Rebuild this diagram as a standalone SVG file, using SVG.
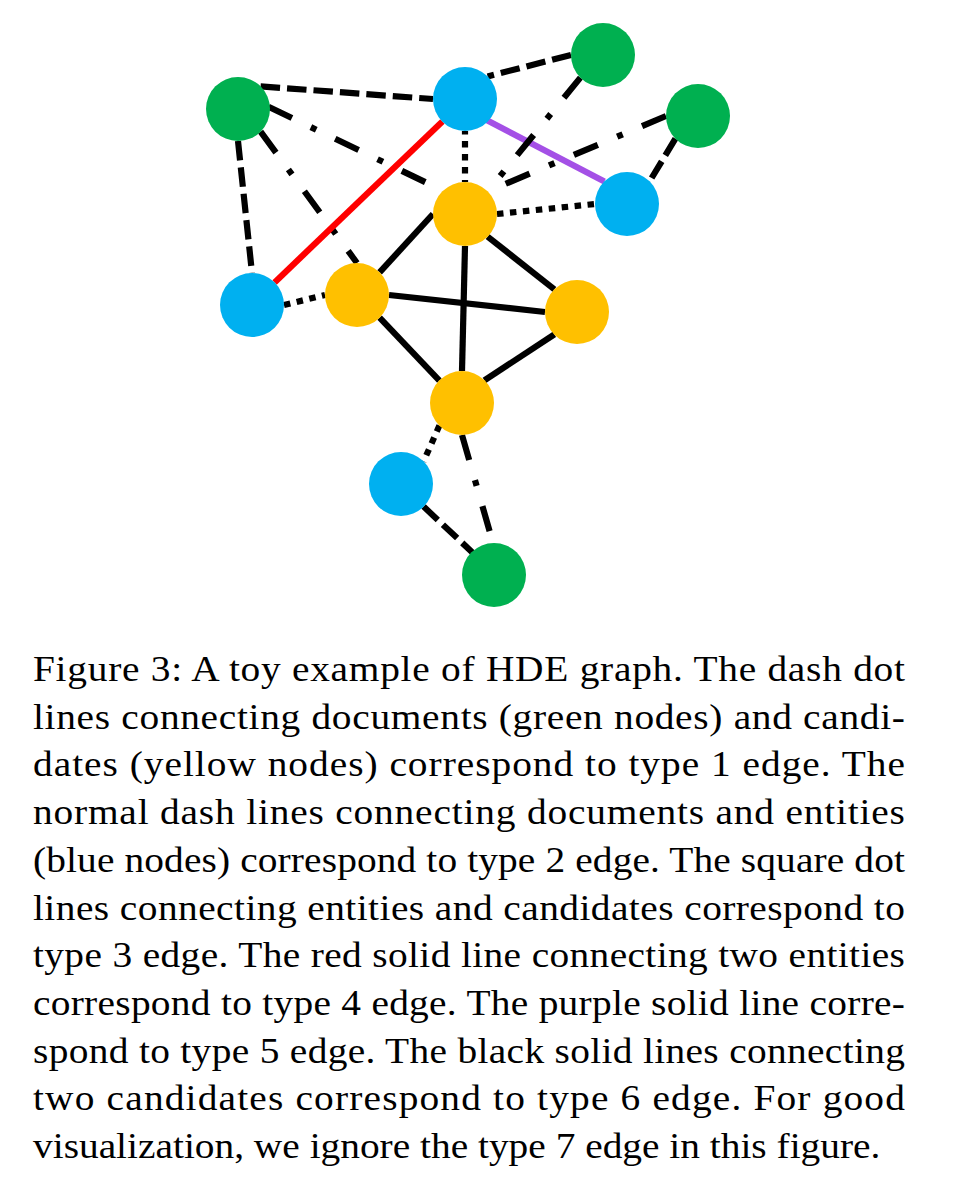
<svg xmlns="http://www.w3.org/2000/svg" width="962" height="1184" viewBox="0 0 962 1184">
<style>
.e{fill:none;stroke-width:6.2;stroke-linecap:butt}
.k{stroke:#000}
.dash{stroke:#000;stroke-dasharray:19.5 7}
.dd{stroke:#000;stroke-dasharray:26 21 6 21}
.dot{stroke:#000;stroke-dasharray:6.5 6.5}
.red{stroke:#FF0000}
.pur{stroke:#A450E6}
.g{fill:#00B050}
.b{fill:#00B0F0}
.y{fill:#FFC000}
text{font-family:"Liberation Serif","Times New Roman",serif;font-size:36px;fill:#000}
</style>
<rect width="962" height="1184" fill="#fff"/>
<g id="connectors">
<line class="e dash" x1="260.6" y1="86.4" x2="433" y2="99"/>
<line class="e dash" x1="571" y1="55" x2="487.6" y2="76.4"/>
<line class="e dash" x1="238" y1="141" x2="252" y2="273"/>
<line class="e dd" x1="268.5" y1="106.7" x2="442.4" y2="190.4"/>
<line class="e dd" x1="260.6" y1="131.6" x2="357" y2="263"/>
<line class="e dot" x1="465" y1="131" x2="465" y2="182" stroke-dashoffset="3"/>
<line class="e red" x1="442.4" y1="121.6" x2="274.6" y2="282.4"/>
<line class="e pur" x1="485.5" y1="119.5" x2="604.4" y2="181.4"/>
<line class="e dd" x1="580.4" y1="77.6" x2="487.6" y2="191.4"/>
<line class="e dd" x1="666" y1="116" x2="487.6" y2="191.4"/>
<line class="e dash" x1="675.4" y1="138.6" x2="649.6" y2="181.4"/>
<line class="e dot" x1="497" y1="214" x2="595" y2="204"/>
<line class="e dot" x1="284" y1="305" x2="325" y2="295"/>
<line class="e k" x1="433" y1="214" x2="379.6" y2="272.4"/>
<line class="e k" x1="465" y1="246" x2="462" y2="371"/>
<line class="e k" x1="487.6" y1="236.6" x2="554.4" y2="289.4"/>
<line class="e k" x1="389" y1="295" x2="545" y2="312"/>
<line class="e k" x1="379.6" y1="317.6" x2="439.4" y2="380.6"/>
<line class="e k" x1="554.4" y1="334.4" x2="484.4" y2="380.4"/>
<line class="e dot" x1="439.4" y1="425.6" x2="423.6" y2="461.4"/>
<line class="e dd" x1="462" y1="435" x2="493" y2="543"/>
<line class="e dash" x1="423.6" y1="506.6" x2="472.4" y2="552.4"/>
</g>
<g id="G1"><circle class="g" cx="238" cy="109" r="32"/></g>
<g id="G2"><circle class="g" cx="603" cy="55" r="32"/></g>
<g id="G3"><circle class="g" cx="698" cy="116" r="32"/></g>
<g id="G4"><circle class="g" cx="494" cy="575" r="32"/></g>
<g id="B1"><circle class="b" cx="465" cy="99" r="32"/></g>
<g id="B2"><circle class="b" cx="627" cy="204" r="32"/></g>
<g id="B3"><circle class="b" cx="252" cy="305" r="32"/></g>
<g id="B4"><circle class="b" cx="401" cy="484" r="32"/></g>
<g id="Y1"><circle class="y" cx="465" cy="214" r="32"/></g>
<g id="Y2"><circle class="y" cx="357" cy="295" r="32"/></g>
<g id="Y3"><circle class="y" cx="577" cy="312" r="32"/></g>
<g id="Y4"><circle class="y" cx="462" cy="403" r="32"/></g>
<g id="caption" transform="translate(33,0) scale(1.094,1)">
<text x="0" y="681" textLength="797" lengthAdjust="spacing">Figure 3: A toy example of HDE graph. The dash dot</text>
<text x="0" y="729" textLength="797" lengthAdjust="spacing">lines connecting documents (green nodes) and candi-</text>
<text x="0" y="776" textLength="797" lengthAdjust="spacing">dates (yellow nodes) correspond to type 1 edge. The</text>
<text x="0" y="824" textLength="797" lengthAdjust="spacing">normal dash lines connecting documents and entities</text>
<text x="0" y="872" textLength="797" lengthAdjust="spacing">(blue nodes) correspond to type 2 edge. The square dot</text>
<text x="0" y="920" textLength="797" lengthAdjust="spacing">lines connecting entities and candidates correspond to</text>
<text x="0" y="967" textLength="797" lengthAdjust="spacing">type 3 edge. The red solid line connecting two entities</text>
<text x="0" y="1015" textLength="797" lengthAdjust="spacing">correspond to type 4 edge. The purple solid line corre-</text>
<text x="0" y="1063" textLength="797" lengthAdjust="spacing">spond to type 5 edge. The black solid lines connecting</text>
<text x="0" y="1110" textLength="797" lengthAdjust="spacing">two candidates correspond to type 6 edge. For good</text>
<text x="0" y="1158">visualization, we ignore the type 7 edge in this figure.</text>
</g>
</svg>
